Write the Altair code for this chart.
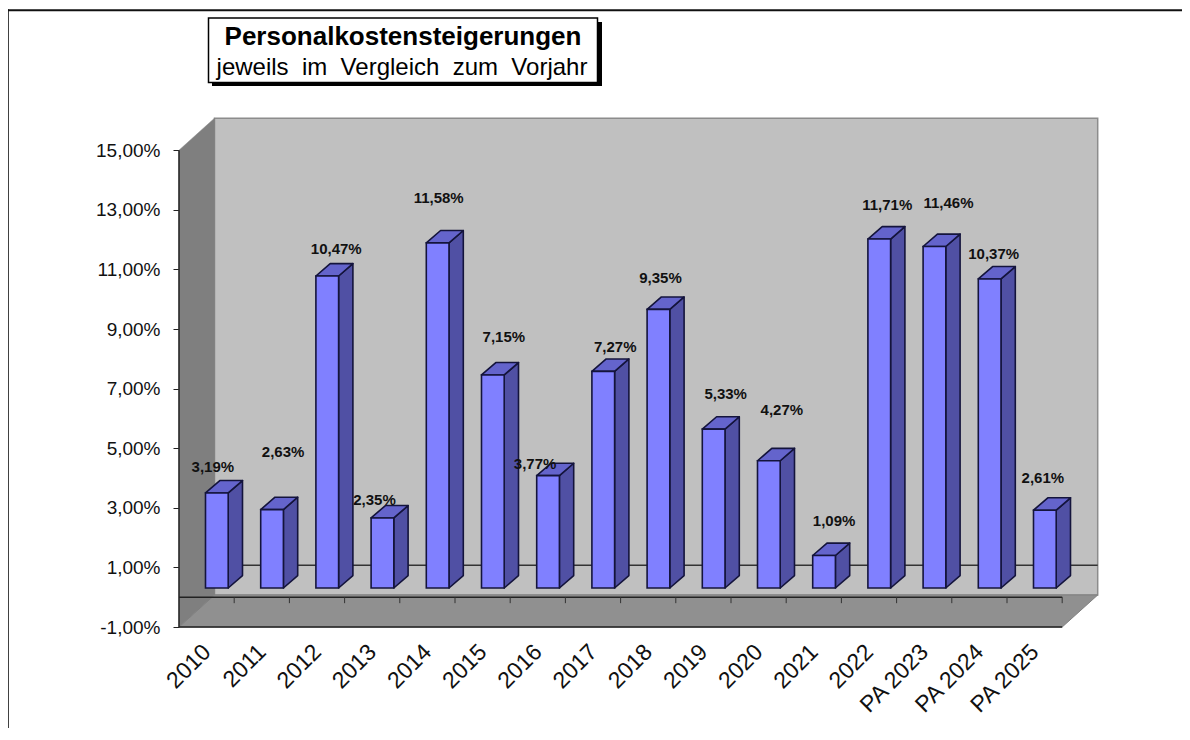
import altair as alt
import pandas as pd

# ---- values ----
categories = ["2010", "2011", "2012", "2013", "2014", "2015", "2016", "2017", "2018",
              "2019", "2020", "2021", "2022", "PA 2023", "PA 2024", "PA 2025"]
values = [3.19, 2.63, 10.47, 2.35, 11.58, 7.15, 3.77, 7.27, 9.35, 5.33, 4.27, 1.09,
          11.71, 11.46, 10.37, 2.61]
# the original's hand-placed data labels, nudged from the bar top (px)
label_dx = [-4, 11, 9, -8, 1, 11, -13, 12, 2, 12, 13, 10, 8, 14, 4, -2]
label_dy = [-26, -58, -27, -18, -45, -38, -12, -24, -31, -35, -51, -34.5, -34, -43, -25, -32]
title_line = "Personalkostensteigerungen"
subtitle_line = "jeweils\u00a0 im\u00a0 Vergleich\u00a0 zum\u00a0 Vorjahr"
y_ticks = [-1, 1, 3, 5, 7, 9, 11, 13, 15]

# ---- geometry ----
FONT = "Liberation Sans"
SLOT = 55.2
UNIT = 29.8
W, H = 919, 509
WALL_DX, WALL_DY = 35.5 / SLOT, 32 / UNIT
BAR_START, BAR_W = 26.5 / SLOT, 22.7 / SLOT
BAR_DX, BAR_DY = 14.3 / SLOT, 12.4 / UNIT
BASE = 9.2 / UNIT
N = len(categories)
XDOM = [0, W / SLOT]
YDOM = [-1, -1 + H / UNIT]

cats_js = "[" + ",".join(f"'{c}'" for c in categories) + "]"
y_axis_def = alt.Axis(
    values=y_ticks, domain=False, grid=False, tickSize=6, tickColor="#222222", tickWidth=1,
    labelFont=FONT, labelFontSize=19, labelColor="#111111", labelPadding=13,
    labelExpr="replace(replace(format(datum.value, '.2f'), '.', ','), '\u2212', '-') + '%'",
)
x_axis_def = alt.Axis(
    values=[i + 0.5 for i in range(N)], domain=False, grid=False, ticks=False,
    labelFont=FONT, labelFontSize=23, labelColor="#111111", labelAngle=315,
    labelAlign="right", labelBaseline="middle", labelPadding=21, labelOverlap=False,
    labelExpr=cats_js + "[floor(datum.value)]",
)


def X(f="x"):
    return alt.X(f"{f}:Q", scale=alt.Scale(domain=XDOM, nice=False, zero=False), title=None, axis=x_axis_def)


def Y(f="y"):
    return alt.Y(f"{f}:Q", scale=alt.Scale(domain=YDOM, nice=False, zero=False), title=None, axis=y_axis_def)


def X2(f="x2"):
    return alt.X2(f"{f}:Q")


def Y2(f="y2"):
    return alt.Y2(f"{f}:Q")


def area(rows, fill, stroke, sw=1.0):
    return alt.Chart(pd.DataFrame(rows)).mark_area(
        fill=fill, stroke=stroke, strokeWidth=sw, strokeJoin="round", clip=False, opacity=1
    ).encode(x=X(), y=Y(), y2=Y2(), detail="g:N")


def rule(rows, color, sw):
    return alt.Chart(pd.DataFrame(rows)).mark_rule(color=color, strokeWidth=sw).encode(
        x=X(), x2=X2(), y=Y(), y2=Y2()
    )


# walls and floor
back_wall = alt.Chart(pd.DataFrame([{
    "x": WALL_DX, "x2": N + WALL_DX, "y": -1 + WALL_DY, "y2": 15 + WALL_DY
}])).mark_rect(fill="#C0C0C0", stroke="#8C8C8C", strokeWidth=1.5).encode(
    x=X(), x2=X2(), y=Y(), y2=Y2()
)
floor = area([
    {"g": 0, "x": 0, "y": -1, "y2": -1},
    {"g": 0, "x": WALL_DX, "y": -1, "y2": -1 + WALL_DY},
    {"g": 0, "x": N, "y": -1, "y2": -1 + WALL_DY},
    {"g": 0, "x": N + WALL_DX, "y": -1 + WALL_DY, "y2": -1 + WALL_DY},
], "#909090", "#808080", 1)
left_wall = area([
    {"g": 0, "x": 0, "y": -1, "y2": 15},
    {"g": 0, "x": WALL_DX, "y": -1 + WALL_DY, "y2": 15 + WALL_DY},
], "#7F7F7F", "#7F7F7F", 0.5)
back_zero = rule([{"x": WALL_DX, "x2": N + WALL_DX, "y": WALL_DY, "y2": WALL_DY}], "#333333", 1.5)
front_lines = rule([
    {"x": 0, "x2": N, "y": 0, "y2": 0},
    {"x": 0, "x2": N, "y": -1, "y2": -1},
    {"x": 0, "x2": 0, "y": -1, "y2": 15},
], "#222222", 1.5)
tick_marks = rule(
    [{"x": i, "x2": i, "y": 0, "y2": -0.2} for i in range(1, N + 1)], "#333333", 1
)

# bars
sides, tops, fronts, labels = [], [], [], []
for i, v in enumerate(values):
    x0 = i + BAR_START
    x1 = x0 + BAR_W
    top = v + BASE
    fronts.append({"x": x0, "x2": x1, "y": BASE, "y2": top, "category": categories[i], "value": v})
    sides += [
        {"g": i, "x": x1, "y": BASE, "y2": top},
        {"g": i, "x": x1 + BAR_DX, "y": BASE + BAR_DY, "y2": top + BAR_DY},
    ]
    tops += [
        {"g": i, "x": x0, "y": top, "y2": top},
        {"g": i, "x": x0 + BAR_DX, "y": top, "y2": top + BAR_DY},
        {"g": i, "x": x1, "y": top, "y2": top + BAR_DY},
        {"g": i, "x": x1 + BAR_DX, "y": top + BAR_DY, "y2": top + BAR_DY},
    ]
    labels.append({
        "x": x0 + BAR_W / 2 + label_dx[i] / SLOT,
        "y": top - label_dy[i] / UNIT,
        "t": f"{v:.2f}".replace(".", ",") + "%",
    })

BAR_EDGE = "#14143C"
side_faces = area(sides, "#5050A4", BAR_EDGE, 1.6)
top_faces = area(tops, "#6464CC", BAR_EDGE, 1.6)
front_faces = alt.Chart(pd.DataFrame(fronts)).mark_bar(
    fill="#8080FF", stroke=BAR_EDGE, strokeWidth=1.6
).encode(x=X(), x2=X2(), y=Y(), y2=Y2())
label_text = alt.Chart(pd.DataFrame(labels)).mark_text(
    font=FONT, fontSize=15, fontWeight="bold", color="#111111", align="center", baseline="middle"
).encode(x=X(), y=Y(), text="t:N")

# title box and page frame (placed in px relative to the plot origin at 179,118)
ONE = pd.DataFrame({"a": [0]})


def px_rect(x, x2, y, y2, **mk):
    return alt.Chart(ONE).mark_rect(**mk).encode(
        x=alt.value(x - 179), x2=alt.value(x2 - 179), y=alt.value(y - 118), y2=alt.value(y2 - 118)
    )


frame_top = px_rect(8, 1182, 9.2, 11.2, fill="#111111")
frame_left = px_rect(8, 8.8, 9.2, 728, fill="#111111")
box_shadow = px_rect(212, 602, 22, 86, fill="#000000")
box = px_rect(208.5, 597.5, 18, 82.5, fill="#FFFFFF", stroke="#000000", strokeWidth=1.5)
title_text = alt.Chart(ONE).mark_text(
    text=title_line, font=FONT, fontSize=26, fontWeight="bold", color="#000000",
    align="center", baseline="alphabetic"
).encode(x=alt.value(403 - 179), y=alt.value(45 - 118))
subtitle_text = alt.Chart(ONE).mark_text(
    text=subtitle_line, font=FONT, fontSize=24, color="#000000",
    align="center", baseline="alphabetic"
).encode(x=alt.value(402 - 179), y=alt.value(75 - 118))

chart = alt.layer(
    back_wall, floor, left_wall, back_zero, front_lines, tick_marks,
    side_faces, top_faces, front_faces, label_text,
    frame_top, frame_left, box_shadow, box, title_text, subtitle_text,
).properties(
    width=W, height=H,
    autosize=alt.AutoSizeParams(type="none"),
    padding={"left": 171, "top": 110, "right": 84, "bottom": 101},
    background="#FFFFFF",
).configure_view(stroke=None)

chart.save("out.html", embed_options={"renderer": "svg", "actions": False})
